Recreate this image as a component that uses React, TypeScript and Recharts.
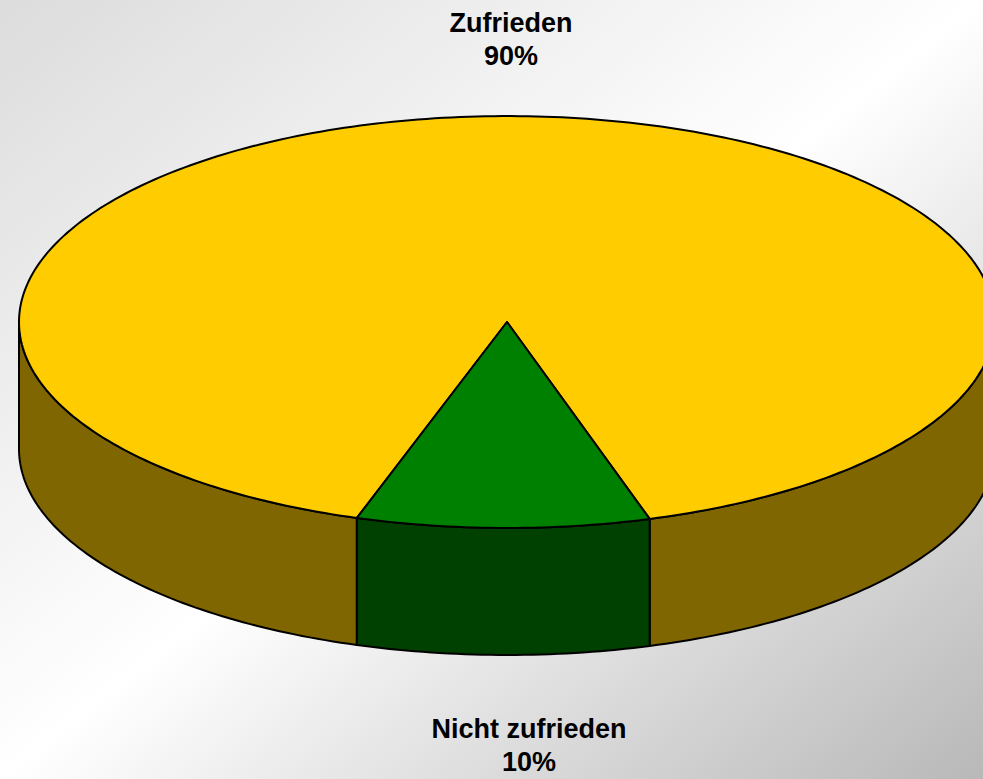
import { PieChart, Pie } from 'recharts';

const categories = ['Zufrieden', 'Nicht zufrieden'];
const values = [90.3, 9.7];
const percentLabels = ['90%', '10%'];
const topColors = ['#FFCC00', '#008000'];
const sideColors = ['#806600', '#004000'];

const data = categories.map((name, i) => ({ name, value: values[i], index: i }));

const TILT = 0.422;
const DEPTH = 127;

const rad = (deg: number) => (deg * Math.PI) / 180;

function pt(cx: number, cy: number, rx: number, ry: number, a: number, dy = 0) {
  return [cx + rx * Math.cos(rad(a)), cy - ry * Math.sin(rad(a)) + dy];
}

function arcPoints(cx: number, cy: number, rx: number, ry: number, a: number, b: number, dy = 0) {
  const pts: number[][] = [];
  const steps = Math.max(2, Math.ceil(Math.abs(b - a)));
  for (let i = 0; i <= steps; i++) {
    pts.push(pt(cx, cy, rx, ry, a + ((b - a) * i) / steps, dy));
  }
  return pts;
}

// sektor als 3D-scheibe: vordere seitenwand + deckel
function Slice3D(props: any) {
  const { cx, cy, outerRadius, startAngle, endAngle, payload } = props;
  const idx = payload?.index ?? props.index ?? 0;
  const rx = outerRadius;
  const ry = outerRadius * TILT;
  const s = Math.min(startAngle, endAngle);
  const e = Math.max(startAngle, endAngle);

  const sides: string[] = [];
  for (let k = -2; k <= 2; k++) {
    const a = Math.max(s, 180 + 360 * k);
    const b = Math.min(e, 360 + 360 * k);
    if (b > a) {
      const top = arcPoints(cx, cy, rx, ry, a, b);
      const bottom = arcPoints(cx, cy, rx, ry, b, a, DEPTH);
      const all = [...top, ...bottom];
      sides.push('M' + all.map(p => `${p[0].toFixed(2)},${p[1].toFixed(2)}`).join(' L') + ' Z');
    }
  }

  const topPts = arcPoints(cx, cy, rx, ry, s, e);
  const topPath =
    `M${cx},${cy} L` + topPts.map(p => `${p[0].toFixed(2)},${p[1].toFixed(2)}`).join(' L') + ' Z';

  return (
    <g>
      {sides.map((d, i) => (
        <path key={i} d={d} fill={sideColors[idx]} stroke="#000" strokeWidth={2} strokeLinejoin="round" />
      ))}
      <path d={topPath} fill={topColors[idx]} stroke="#000" strokeWidth={2} strokeLinejoin="round" />
    </g>
  );
}

function renderLabel(props: any) {
  const { cx, cy, midAngle, outerRadius, index } = props;
  const rx = outerRadius;
  const ry = outerRadius * TILT;
  const below = Math.sin(rad(midAngle)) < 0;
  const [x] = pt(cx, cy, rx, ry, midAngle);
  const edgeY = cy - ry * Math.sin(rad(midAngle)) + (below ? DEPTH : 0);
  const tx = below ? x + 26 : x;
  const y1 = below ? edgeY + 83 : edgeY - 84;
  return (
    <text
      x={tx}
      y={y1}
      textAnchor="middle"
      fill="#000"
      fontSize={27}
      fontWeight="bold"
      fontFamily="'Liberation Sans', Arial, sans-serif"
    >
      <tspan x={tx} y={y1}>{categories[index]}</tspan>
      <tspan x={tx} y={y1 + 33}>{percentLabels[index]}</tspan>
    </text>
  );
}

export default function App() {
  return (
    <div
      style={{
        position: 'absolute',
        left: 0,
        top: 0,
        width: 983,
        height: 779,
        background: 'linear-gradient(to bottom right, #dcdcdc 0%, #ffffff 50%, #b8b8b8 100%)',
      }}
    >
      <PieChart width={983} height={779} margin={{ top: 0, right: 0, bottom: 0, left: 0 }}>
        <Pie
          data={data}
          dataKey="value"
          nameKey="name"
          cx={507}
          cy={322}
          outerRadius={488}
          startAngle={287}
          endAngle={647}
          stroke="#000"
          strokeWidth={2}
          shape={Slice3D}
          inactiveShape={Slice3D}
          activeShape={Slice3D}
          label={renderLabel}
          labelLine={false}
          isAnimationActive={false}
        />
      </PieChart>
    </div>
  );
}
